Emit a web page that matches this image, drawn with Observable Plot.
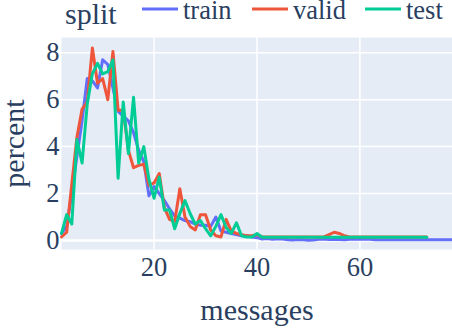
<!DOCTYPE html>
<html>
<head>
<meta charset="utf-8">
<script src="https://cdn.jsdelivr.net/npm/d3@7"></script>
<script src="https://cdn.jsdelivr.net/npm/@observablehq/plot@0.6"></script>
<style>
  html, body { margin: 0; padding: 0; background: #fff; }
  #wrap { position: relative; width: 452px; height: 328px; font-family: "Liberation Serif", serif; color: #2a3f5f; }
  #legend { position: absolute; left: 0; top: 0; width: 452px; height: 37px; }
  #legend span { position: absolute; white-space: nowrap; }
  #legend svg { position: absolute; }
</style>
</head>
<body>
<div id="wrap">
  <div id="chart"></div>
  <div id="legend"></div>
</div>
<script>
const seriesNames = ["train", "valid", "test"];
const seriesColors = ["#636efa", "#EF553B", "#00cc96"];

const trainStart = 2;
const train = [
  0.3, 0.6, 2.0, 3.6, 5.1, 6.9, 6.8, 6.5, 7.7, 7.5,
  6.5, 5.5, 5.3, 5.1, 4.6, 3.85, 3.35, 1.9, 2.3, 2.0,
  1.7, 1.35, 1.05, 0.95, 0.85, 0.8, 0.7, 0.65, 0.65, 0.6,
  1.0, 0.4, 0.35, 0.3, 0.25, 0.2, 0.2, 0.15, 0.12, 0.06,
  0.08, 0.05, 0.07, 0.06, 0.03, 0.02, 0.04, 0.03, 0.01, 0.02,
  0.05, 0.06, 0.04, 0.05, 0.04, 0.03, 0.05, 0.06, 0.05, 0.06,
  0.05, 0.03, 0.03, 0.03, 0.03, 0.03, 0.03, 0.03, 0.03, 0.03,
  0.03, 0.03, 0.03, 0.03, 0.03, 0.03, 0.03
];
const valid = [
  0.15, 0.35, 2.4, 4.4, 5.6, 5.9, 8.2, 6.7, 6.9, 6.0,
  8.05, 5.55, 5.55, 3.85, 3.1, 3.2, 3.25, 2.35, 2.45, 2.85,
  1.4, 0.9, 0.8, 2.2, 1.0, 0.6, 0.45, 1.1, 1.1, 0.45,
  0.2, 0.15, 0.9, 0.4, 0.3, 0.25, 0.2, 0.2, 0.25, 0.15,
  0.15, 0.15, 0.15, 0.15, 0.15, 0.15, 0.15, 0.15, 0.15, 0.15,
  0.15, 0.15, 0.25, 0.35, 0.3, 0.2, 0.15, 0.15, 0.15, 0.15,
  0.15, 0.15, 0.15, 0.15, 0.15, 0.15, 0.15, 0.15, 0.15, 0.15,
  0.15, 0.15
];
const test = [
  0.3, 1.1, 0.7, 4.3, 3.3, 5.8, 7.1, 7.55, 7.1, 7.2,
  7.7, 2.65, 5.9, 3.7, 6.1, 3.3, 4.0, 2.6, 1.8, 2.7,
  1.3, 1.3, 0.5, 1.15, 1.7, 1.15, 0.7, 0.85, 0.5, 0.2,
  0.6, 1.1, 0.55, 0.3, 0.75, 0.2, 0.15, 0.15, 0.3, 0.14,
  0.14, 0.14, 0.14, 0.14, 0.14, 0.14, 0.14, 0.14, 0.14, 0.14,
  0.14, 0.14, 0.14, 0.14, 0.14, 0.14, 0.14, 0.14, 0.14, 0.14,
  0.14, 0.14, 0.14, 0.14, 0.14, 0.14, 0.14, 0.14, 0.14, 0.14,
  0.14, 0.14
];
const xTicks = [20, 40, 60];
const yTicks = [0, 2, 4, 6, 8];
const xLabel = "messages";
const yLabel = "percent";
const legendTitle = "split";

const seriesValues = [train, valid, test];
const rows = [];
seriesValues.forEach((vals, si) => {
  vals.forEach((v, i) => rows.push({split: seriesNames[si], messages: trainStart + i, percent: v}));
});

const plot = Plot.plot({
  width: 452,
  height: 328,
  marginLeft: 61,
  marginRight: 0,
  marginTop: 37,
  marginBottom: 79,
  style: {fontFamily: "Liberation Serif, serif", fontSize: "26.5px", color: "#2a3f5f", background: "transparent", overflow: "visible"},
  x: {domain: [2, 78]},
  y: {domain: [-0.385, 8.65]},
  color: {domain: seriesNames, range: seriesColors},
  marks: [
    Plot.frame({fill: "#E5ECF6", stroke: null}),
    Plot.gridX(xTicks, {stroke: "#fff", strokeOpacity: 1, strokeWidth: 1.5}),
    Plot.gridY(yTicks.filter(d => d !== 0), {stroke: "#fff", strokeOpacity: 1, strokeWidth: 1.5}),
    Plot.ruleY([0], {stroke: "#fff", strokeWidth: 2.6}),
    Plot.line(rows, {x: "messages", y: "percent", z: "split", stroke: "split", strokeWidth: 3, strokeLinejoin: "round"}),
    Plot.axisX(xTicks, {tickSize: 0, tickPadding: 8, label: null, fill: "#2a3f5f"}),
    Plot.axisY(yTicks, {tickSize: 0, tickPadding: 2, label: null, fill: "#2a3f5f"}),
    Plot.text([xLabel], {frameAnchor: "bottom", dy: 61, fontSize: 30, fill: "#2a3f5f", lineAnchor: "middle", textAnchor: "middle"}),
    Plot.text([yLabel], {frameAnchor: "left", dx: -47, rotate: -90, fontSize: 30, fill: "#2a3f5f", lineAnchor: "middle", textAnchor: "middle"})
  ]
});
document.getElementById("chart").appendChild(plot);

// legend
const legend = document.getElementById("legend");
const title = document.createElement("span");
title.textContent = legendTitle;
title.style.fontSize = "30px";
title.style.lineHeight = "24px";
title.style.left = "65px";
title.style.top = "2px";
legend.appendChild(title);
const itemX = [142, 252, 365];
seriesNames.forEach((name, i) => {
  const sw = document.createElementNS("http://www.w3.org/2000/svg", "svg");
  sw.setAttribute("width", 36);
  sw.setAttribute("height", 10);
  sw.style.left = itemX[i] + "px";
  sw.style.top = "4px";
  const ln = document.createElementNS("http://www.w3.org/2000/svg", "line");
  ln.setAttribute("x1", 0); ln.setAttribute("x2", 36);
  ln.setAttribute("y1", 5); ln.setAttribute("y2", 5);
  ln.setAttribute("stroke", seriesColors[i]);
  ln.setAttribute("stroke-width", 3);
  sw.appendChild(ln);
  legend.appendChild(sw);
  const t = document.createElement("span");
  t.textContent = name;
  t.style.fontSize = "26.5px";
  t.style.lineHeight = "20px";
  t.style.left = (itemX[i] + 41) + "px";
  t.style.top = "0px";
  legend.appendChild(t);
});
</script>
</body>
</html>
